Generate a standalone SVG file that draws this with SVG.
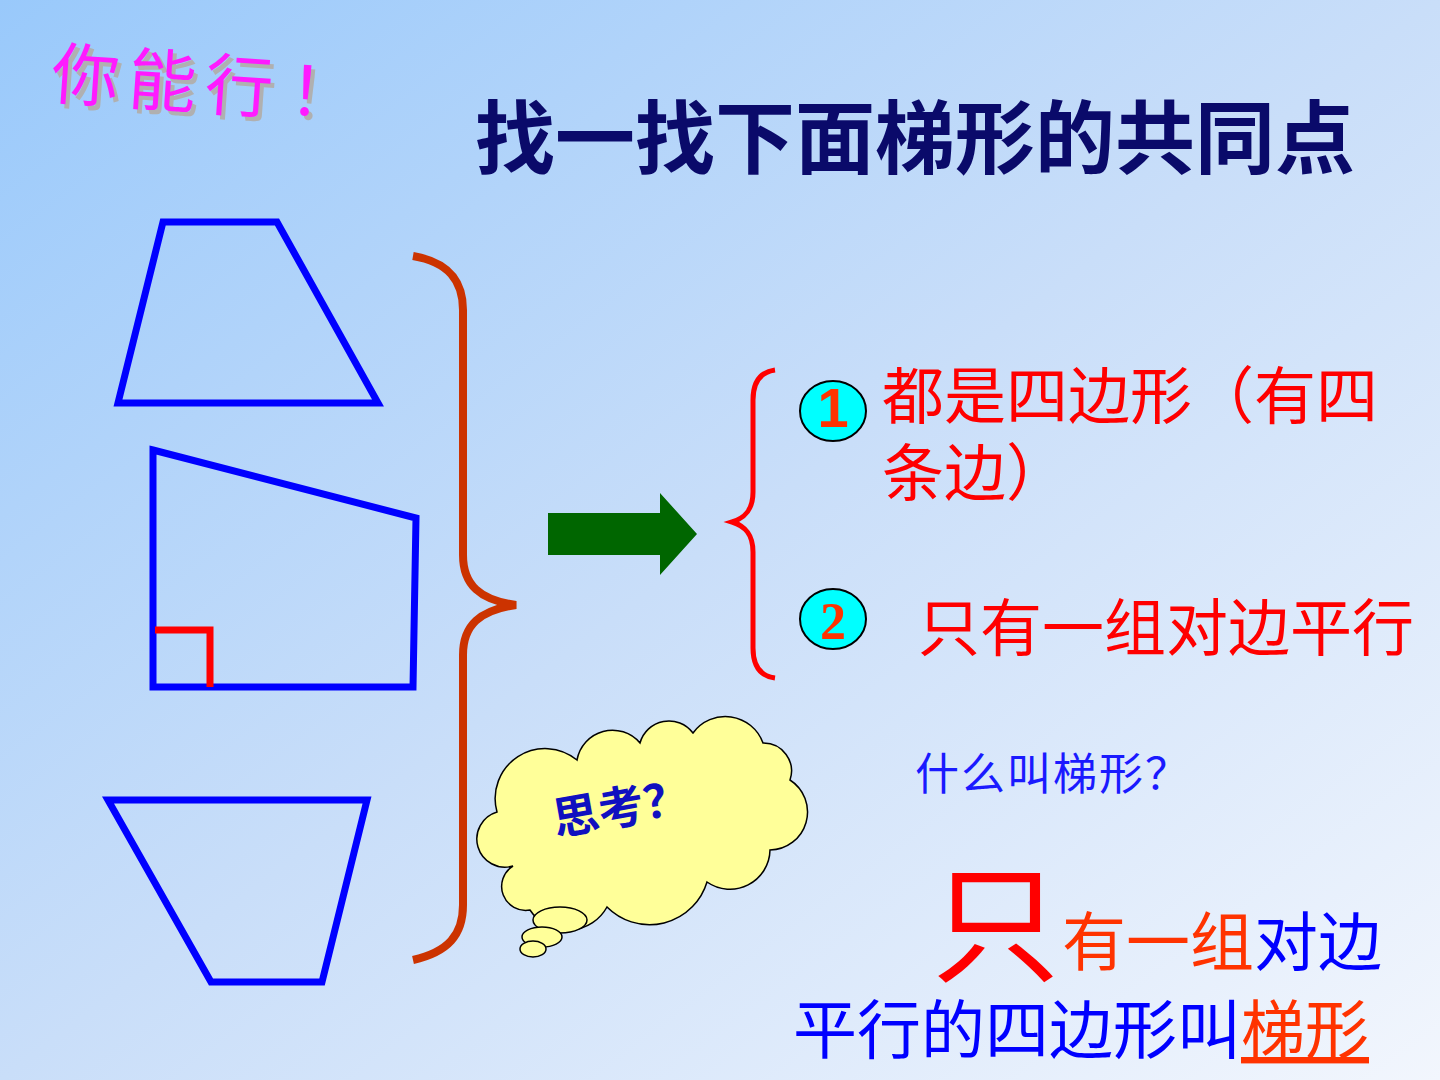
<svg xmlns="http://www.w3.org/2000/svg" width="1440" height="1080" viewBox="0 0 1440 1080">
<defs>
<linearGradient id="bg" x1="0" y1="0" x2="1" y2="1">
<stop offset="0" stop-color="#99c9fb"/>
<stop offset="0.5" stop-color="#c9def9"/>
<stop offset="1" stop-color="#f2f6fd"/>
</linearGradient>
<style>
.cjk{font-family:"Noto Sans CJK SC","Noto Sans",sans-serif;}
.sans{font-family:"Liberation Sans","DejaVu Sans",sans-serif;font-weight:bold;}
.serif{font-family:"Liberation Serif","DejaVu Serif",serif;font-weight:bold;}
.shape{fill:none;stroke:#0000ff;stroke-width:7;stroke-linejoin:miter;}
.num{fill:#00ffff;stroke:#000;stroke-width:2;}
.cl{fill:#ffff99;stroke:#000;stroke-width:1.5;}
</style>
</defs>
<rect width="1440" height="1080" fill="url(#bg)"/>

<g id="slogan" transform="rotate(4 52 97)">
<text y="102" class="cjk" font-size="68" fill="#b0b0b0"><tspan x="54">你</tspan><tspan x="131">能</tspan><tspan x="208">行</tspan><tspan x="292">！</tspan></text>
<text y="98" class="cjk" font-size="68" fill="#ff1aff"><tspan x="50">你</tspan><tspan x="127">能</tspan><tspan x="204">行</tspan><tspan x="288">！</tspan></text>
</g>

<g id="title">
<text x="475" y="167" class="cjk" font-size="80" font-weight="bold" fill="#0a0a6a">找一找下面梯形的共同点</text>
</g>

<g id="trapezoid1">
<polygon class="shape" points="163,222 277,222 378,403 118,403"/>
</g>
<g id="trapezoid2">
<polygon class="shape" points="153,450 416,518 413,687 153,687"/>
<polyline points="155,630 210,630 210,687" fill="none" stroke="#ff0000" stroke-width="7"/>
</g>
<g id="trapezoid3">
<polygon class="shape" points="108,800 367,800 322,982 211,982"/>
</g>

<g id="connectors">
<path id="big-brace" d="M413,256 C448,262 463,280 463,310 L463,555 C463,585 480,600 516,605 C480,610 463,625 463,655 L463,905 C463,935 448,952 413,960" fill="none" stroke="#cc3300" stroke-width="8"/>
<polygon id="arrow" points="548,513 660,513 660,493 697,534 660,575 660,555 548,555" fill="#006600"/>
<path id="small-brace" d="M775,370 C760,372 753,382 753,400 L753,492 C753,510 745,518 732,522 C745,526 753,534 753,552 L753,648 C753,666 760,676 775,678" fill="none" stroke="#ff0000" stroke-width="5"/>
</g>

<g id="point1">
<ellipse class="num" cx="833" cy="411" rx="33" ry="30"/>
<text x="833" y="427" text-anchor="middle" class="sans" font-size="56" fill="#ff3300">1</text>
<text x="882" y="419" class="cjk" font-size="62" fill="#ff0000">都是四边形（有四</text>
<text x="882" y="496" class="cjk" font-size="62" fill="#ff0000">条边）</text>
</g>

<g id="point2">
<ellipse class="num" cx="833" cy="619" rx="33" ry="30"/>
<text x="833" y="639" text-anchor="middle" class="serif" font-size="52" fill="#ff3300">2</text>
<text x="918" y="651" class="cjk" font-size="62" fill="#ff0000">只有一组对边平行</text>
</g>

<g id="cloud">
<path class="cl" d="M513,866 A26,26 0 0 1 497,812 A50,50 0 0 1 577,760 A36,36 0 0 1 640,743 A30,30 0 0 1 693,733 A40,40 0 0 1 763,743 A28,28 0 0 1 790,780 A38,38 0 0 1 770,850 A40,40 0 0 1 707,882 A60,60 0 0 1 607,907 A45,45 0 0 1 530,910 A24,24 0 0 1 513,866 Z"/>
<ellipse class="cl" cx="560" cy="920" rx="27" ry="13"/>
<ellipse class="cl" cx="542" cy="937" rx="20" ry="10"/>
<ellipse class="cl" cx="533" cy="949" rx="13" ry="8"/>
<text x="556" y="836" transform="rotate(-10 556 836)" class="cjk" font-size="46" font-weight="bold" fill="#1010c0">思考？</text>
</g>

<g id="question">
<text x="915" y="790" class="cjk" font-size="44" fill="#1a1aff" letter-spacing="2">什么叫梯形？</text>
</g>

<g id="definition">
<text x="932" y="972" class="cjk" font-size="128" fill="#ff0000">只</text>
<text x="1062" y="965" class="cjk" font-size="64"><tspan fill="#ff3300">有一组</tspan><tspan fill="#0000ff">对边</tspan></text>
<text x="793" y="1053" class="cjk" font-size="64"><tspan fill="#0000ff">平行的四边形叫</tspan><tspan fill="#ff3300" text-decoration="underline">梯形</tspan></text>
</g>
</svg>
